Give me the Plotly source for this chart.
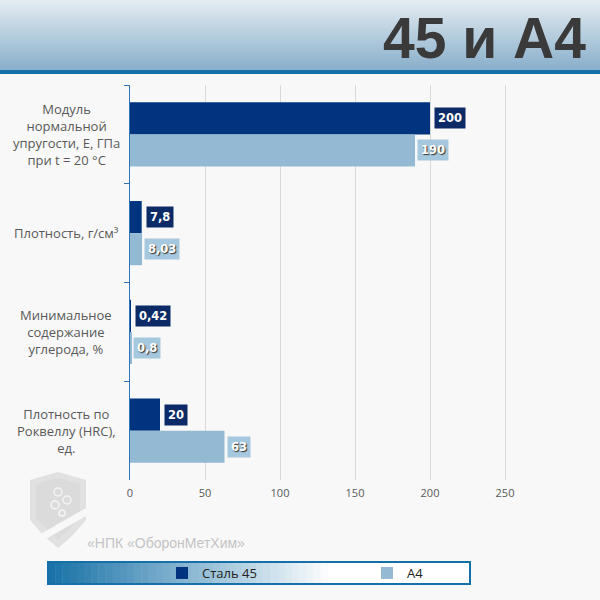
import plotly.graph_objects as go

categories = [
    "Модуль<br>нормальной<br>упругости, Е, ГПа<br>при t = 20 °С",
    "Плотность, г/см³",
    "Минимальное<br>содержание<br>углерода, %",
    "Плотность по<br>Роквеллу (HRC),<br>ед.",
]
cat_keys = ["E", "rho", "C", "HRC"]
steel45 = [200, 7.8, 0.42, 20]
a4 = [190, 8.03, 0.8, 63]
series_names = ["Сталь 45", "А4"]
x_ticks = [0, 50, 100, 150, 200, 250]

dark = "#00347f"
light = "#93b9d3"

fig = go.Figure()
fig.add_trace(go.Bar(y=cat_keys, x=steel45, orientation="h", name=series_names[0],
                     marker=dict(color=dark, line=dict(width=0)), hoverinfo="skip"))
fig.add_trace(go.Bar(y=cat_keys, x=a4, orientation="h", name=series_names[1],
                     marker=dict(color=light, line=dict(width=0)), hoverinfo="skip"))

L, T, B, R = 130, 85, 120, 35
W = 600 - L - R
H = 600 - T - B

def px_x(p):
    return (p - L) / W

def px_y(p):
    return (600 - B - p) / H

shapes = []
annotations = []

def lerp(c1, c2, t):
    return "rgb(%d,%d,%d)" % tuple(int(c1[i] + (c2[i] - c1[i]) * t) for i in range(3))

# header gradient
top_c = (228, 236, 242)
bot_c = (138, 176, 203)
n = 35
for i in range(n):
    y0 = 70 * i / n
    y1 = 70 * (i + 1) / n + 0.5
    shapes.append(dict(type="rect", xref="paper", yref="paper", x0=px_x(0), x1=px_x(600),
                       y0=px_y(y1), y1=px_y(y0), line=dict(width=0),
                       fillcolor=lerp(top_c, bot_c, i / (n - 1)), layer="below"))
shapes.append(dict(type="rect", xref="paper", yref="paper", x0=px_x(0), x1=px_x(600),
                   y0=px_y(74), y1=px_y(70), line=dict(width=0), fillcolor="#1670a8", layer="below"))

# legend box gradient
lx0, lx1, ly0, ly1 = 48, 470, 562, 584
left_c = (26, 115, 168)
white = (255, 255, 255)
m = 40
grad_end = 335
for i in range(m):
    a = lx0 + (grad_end - lx0) * i / m
    b = lx0 + (grad_end - lx0) * (i + 1) / m + 0.5
    shapes.append(dict(type="rect", xref="paper", yref="paper", x0=px_x(a), x1=px_x(b),
                       y0=px_y(ly1), y1=px_y(ly0), line=dict(width=0),
                       fillcolor=lerp(left_c, white, i / (m - 1)), layer="below"))
shapes.append(dict(type="rect", xref="paper", yref="paper", x0=px_x(grad_end), x1=px_x(lx1),
                   y0=px_y(ly1), y1=px_y(ly0), line=dict(width=0), fillcolor="white", layer="below"))
shapes.append(dict(type="rect", xref="paper", yref="paper", x0=px_x(lx0), x1=px_x(lx1),
                   y0=px_y(ly1), y1=px_y(ly0), line=dict(width=2, color="#1670a8"),
                   fillcolor="rgba(0,0,0,0)", layer="above"))

# watermark shield
def pth(pts):
    return "M " + " L ".join("%f,%f" % (px_x(a), px_y(b)) for a, b in pts) + " Z"

shield = [(30, 480), (44, 476), (58, 472), (72, 476), (86, 480), (86, 520), (72, 536), (58, 548), (44, 536), (30, 520)]
shapes.append(dict(type="path", xref="paper", yref="paper", path=pth(shield),
                   fillcolor="rgba(205,205,205,0.55)", line=dict(width=0), layer="below"))
inner = [(36, 484), (58, 478), (80, 484), (80, 518), (58, 540), (36, 518)]
shapes.append(dict(type="path", xref="paper", yref="paper", path=pth(inner),
                   fillcolor="rgba(215,215,215,0.6)", line=dict(width=0), layer="below"))
band = [(30, 540), (86, 508), (86, 516), (30, 548)]
shapes.append(dict(type="path", xref="paper", yref="paper", path=pth(band),
                   fillcolor="rgba(248,248,248,1)", line=dict(width=0), layer="below"))
for cx, cy, r in [(58, 492, 4), (67, 500, 4), (55, 505, 4), (62, 513, 3)]:
    shapes.append(dict(type="circle", xref="paper", yref="paper",
                       x0=px_x(cx - r), x1=px_x(cx + r), y0=px_y(cy + r), y1=px_y(cy - r),
                       fillcolor="rgba(0,0,0,0)", line=dict(width=1.5, color="rgba(245,245,245,1)"),
                       layer="below"))

# title
annotations.append(dict(text="<b>45 и А4</b>", xref="paper", yref="paper", x=px_x(588), y=px_y(4),
                        xanchor="right", yanchor="top", showarrow=False,
                        font=dict(family="Liberation Sans, Arial", size=57, color="#3a3a3a")))

# watermark text
annotations.append(dict(text="«НПК «ОборонМетХим»", xref="paper", yref="paper", x=px_x(85), y=px_y(543),
                        xanchor="left", yanchor="middle", showarrow=False,
                        font=dict(family="Liberation Sans, Arial", size=14, color="#c4c4c4")))

# category labels
for key, lab in zip(cat_keys, categories):
    annotations.append(dict(text=lab, xref="paper", yref="y", x=px_x(66), y=key,
                            xanchor="center", yanchor="middle", align="center", showarrow=False,
                            font=dict(family="Open Sans", size=13, color="#595959")))

def fmt(v):
    return ("%g" % v).replace(".", ",")

for key, v in zip(cat_keys, steel45):
    annotations.append(dict(text="<b>%s</b>" % fmt(v), x=v, y=key, xref="x", yref="y",
                            xanchor="left", yanchor="middle", xshift=4, yshift=16, showarrow=False,
                            bgcolor="#0c2b66", borderpad=3,
                            font=dict(family="DejaVu Sans", size=11.5, color="white")))
for key, v in zip(cat_keys, a4):
    annotations.append(dict(text="<b>%s</b>" % fmt(v), x=v, y=key, xref="x", yref="y",
                            xanchor="left", yanchor="middle", xshift=2, yshift=-16, showarrow=False,
                            bgcolor="#a6c8de", borderpad=3,
                            font=dict(family="DejaVu Sans", size=11.5, color="white",
                                      shadow="1px 1px 1px #333")))

fig.update_layout(
    width=600, height=600,
    margin=dict(l=L, r=R, t=T, b=B, autoexpand=False),
    paper_bgcolor="#f8f8f8", plot_bgcolor="rgba(0,0,0,0)",
    barmode="group", bargap=0.35, bargroupgap=0,
    showlegend=True,
    legend=dict(orientation="h", x=px_x(162), y=px_y(573), xanchor="left", yanchor="middle",
                bgcolor="rgba(0,0,0,0)", entrywidth=160, entrywidthmode="pixels",
                font=dict(family="Open Sans", size=13, color="#222")),
    shapes=shapes, annotations=annotations,
    xaxis=dict(range=[0, 290], tickvals=x_ticks, showgrid=True, gridcolor="#d9d9d9", gridwidth=1,
               zeroline=False, showline=False, ticklabelstandoff=5,
               tickfont=dict(family="Open Sans", size=11, color="#595959"), fixedrange=True),
    yaxis=dict(autorange="reversed", showticklabels=False, showline=True, linecolor="#2e75b6",
               linewidth=1, ticks="outside", tickson="boundaries", ticklen=5, tickcolor="#2e75b6",
               showgrid=False, fixedrange=True),
)

fig.write_html("out.html", config={"displayModeBar": False},
               post_script="document.body.style.margin='0';document.body.style.overflow='hidden';")
